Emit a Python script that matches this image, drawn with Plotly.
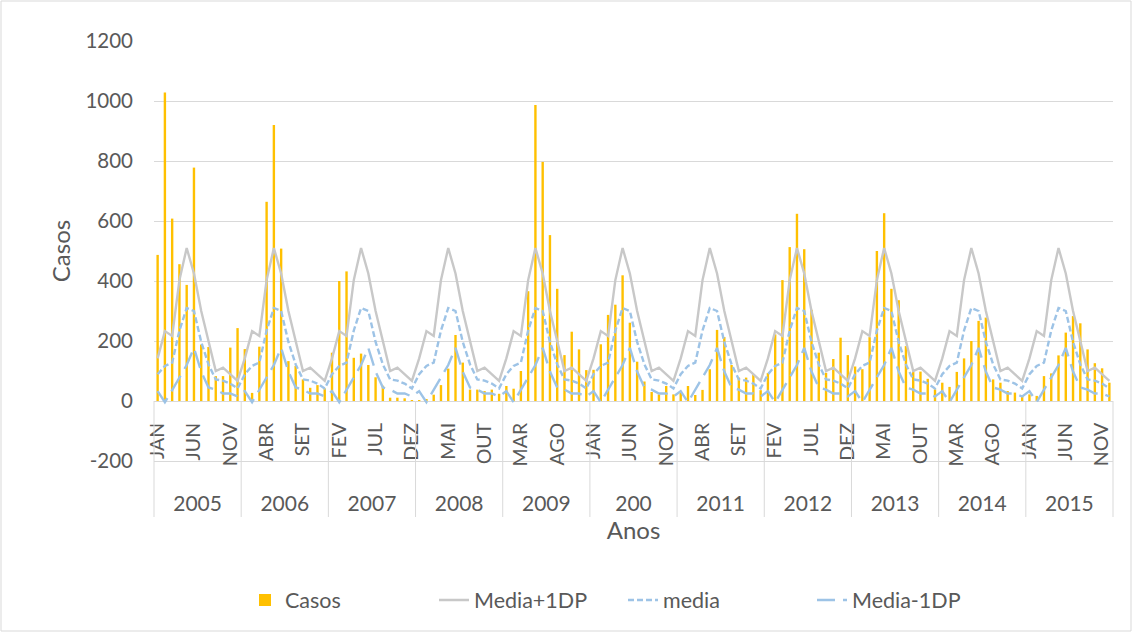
import plotly.graph_objects as go

# ---------------- data ----------------
MONTHS = ["JAN", "FEV", "MAR", "ABR", "MAI", "JUN", "JUL", "AGO", "SET", "OUT", "NOV", "DEZ"]
YEAR_LABELS = ["2005", "2006", "2007", "2008", "2009", "200", "2011", "2012", "2013", "2014", "2015"]
Y_TICKS = [-200, 0, 200, 400, 600, 800, 1000, 1200]
Y_TICK_LABELS = ["-200", "0", "200", "400", "600", "800", "1000", "1200"]

casos_2005 = [487, 1028, 608, 456, 387, 778, 188, 180, 83, 83, 178, 243]
casos_2006 = [173, 27, 181, 664, 920, 508, 133, 117, 72, 44, 53, 42]
casos_2007 = [161, 400, 432, 144, 158, 120, 79, 51, 11, 11, 9, 3]
casos_2008 = [2, 4, 21, 53, 108, 220, 128, 38, 38, 33, 38, 24]
casos_2009 = [50, 41, 100, 366, 987, 797, 553, 374, 153, 231, 172, 103]
casos_2010 = [104, 189, 287, 321, 419, 261, 131, 65, 30, 22, 50, 22]
casos_2011 = [33, 50, 20, 37, 106, 237, 213, 120, 78, 78, 89, 36]
casos_2012 = [93, 222, 403, 513, 624, 506, 304, 161, 94, 140, 211, 153]
casos_2013 = [115, 106, 213, 500, 626, 374, 336, 183, 98, 98, 74, 39]
casos_2014 = [61, 47, 97, 142, 200, 267, 278, 72, 61, 33, 28, 18]
casos_2015 = [22, 17, 83, 92, 152, 228, 283, 259, 172, 126, 109, 61]

casos = (casos_2005 + casos_2006 + casos_2007 + casos_2008 + casos_2009 + casos_2010
         + casos_2011 + casos_2012 + casos_2013 + casos_2014 + casos_2015)

# monthly seasonal statistics (same for every year)
media_mais_1dp_mes = [142, 233, 217, 403, 510, 425, 300, 202, 100, 111, 89, 67]
media_mes = [89, 117, 128, 235, 310, 300, 197, 122, 72, 68, 58, 42]
media_menos_1dp_mes = [33, -4, 36, 78, 120, 177, 98, 45, 38, 25, 25, 15]

n_years = len(YEAR_LABELS)
media_mais_1dp = media_mais_1dp_mes * n_years
media = media_mes * n_years
media_menos_1dp = media_menos_1dp_mes * n_years

idx = list(range(len(casos)))

# ---------------- styles ----------------
FONT = "Lato"
GRID = "#D9D9D9"
TXT = "#595959"
Y_MIN, Y_MAX = Y_TICKS[0], Y_TICKS[-1]
X_RANGE = [-0.5, len(casos) - 0.5]

fig = go.Figure()
fig.add_bar(x=idx, y=casos, name="Casos", marker=dict(color="#FFC000", line=dict(width=0)),
            width=0.33, xaxis="x", yaxis="y")
fig.add_scatter(x=idx, y=media_mais_1dp, mode="lines", name="Media+1DP",
                line=dict(color="#C8C8C8", width=2.4), xaxis="x2", yaxis="y")
fig.add_scatter(x=idx, y=media, mode="lines", name="media",
                line=dict(color="#9DC3E6", width=2.4, dash="6px,3px"), xaxis="x2", yaxis="y")
fig.add_scatter(x=idx, y=media_menos_1dp, mode="lines", name="Media-1DP",
                line=dict(color="#9DC3E6", width=2.4, dash="18px,8px"), xaxis="x2", yaxis="y")

n = len(casos)
month_tickvals = list(range(0, n, 5))
month_ticktext = [MONTHS[i % 12] for i in month_tickvals]
year_tickvals = [12 * k + 5.5 for k in range(n_years)]

zero_pos = (0 - Y_MIN) / (Y_MAX - Y_MIN)

W, H = 1133, 633
ML, MR, MT, MB = 154, 20, 41, 172
PW, PH = W - ML - MR, H - MT - MB
BOTTOM = MT + PH

shapes = []
for k in range(n_years + 1):
    xp = 12 * k / n
    shapes.append(dict(type="line", xref="paper", yref="paper", x0=xp, x1=xp,
                       y0=zero_pos, y1=-(517 - BOTTOM) / PH,
                       line=dict(color=GRID, width=1)))
# chart border
shapes.append(dict(type="rect", xref="paper", yref="paper",
                   x0=(1 - ML) / PW, x1=(W - 2 - ML) / PW,
                   y0=-(H - 2 - BOTTOM) / PH, y1=(BOTTOM - 1) / PH,
                   line=dict(color=GRID, width=1), layer="below"))

fig.update_layout(
    width=W, height=H,
    margin=dict(l=ML, r=MR, t=MT, b=MB, autoexpand=False),
    paper_bgcolor="white", plot_bgcolor="white",
    font=dict(family=FONT, size=19, color=TXT),
    showlegend=True,
    legend=dict(orientation="h", x=(245 - ML) / PW, xanchor="left",
                y=-(600 - BOTTOM) / PH, yanchor="middle",
                entrywidth=144, entrywidthmode="pixels",
                font=dict(size=21.5, color=TXT), traceorder="normal",
                bgcolor="rgba(0,0,0,0)"),
    yaxis=dict(range=[Y_MIN, Y_MAX], tickmode="array", tickvals=Y_TICKS, ticktext=Y_TICK_LABELS,
               showgrid=True, gridcolor=GRID,
               gridwidth=1, zeroline=True, zerolinecolor=GRID, zerolinewidth=1,
               showline=False, ticks="", ticklabelstandoff=20,
               tickfont=dict(size=20.5, color=TXT),
               title=dict(text="Casos", font=dict(size=24, color=TXT), standoff=8),
               automargin=False, fixedrange=True),
    xaxis=dict(range=X_RANGE, anchor="free", position=zero_pos, side="bottom",
               tickmode="array", tickvals=month_tickvals, ticktext=month_ticktext,
               tickangle=-90, showgrid=False, zeroline=False, showline=False,
               ticks="", ticklabelstandoff=17, tickfont=dict(size=19.5, color=TXT),
               automargin=False, fixedrange=True),
    xaxis2=dict(range=X_RANGE, overlaying="x", anchor="y", side="bottom",
                tickmode="array", tickvals=year_tickvals, ticktext=YEAR_LABELS,
                showgrid=False, zeroline=False, showline=True, linecolor=GRID, linewidth=1,
                ticks="", ticklabelstandoff=24, tickfont=dict(size=21, color=TXT),
                title=dict(text="Anos", font=dict(size=24, color=TXT), standoff=0),
                automargin=False, fixedrange=True),
    shapes=shapes,
)

fig.write_html("out.html")
